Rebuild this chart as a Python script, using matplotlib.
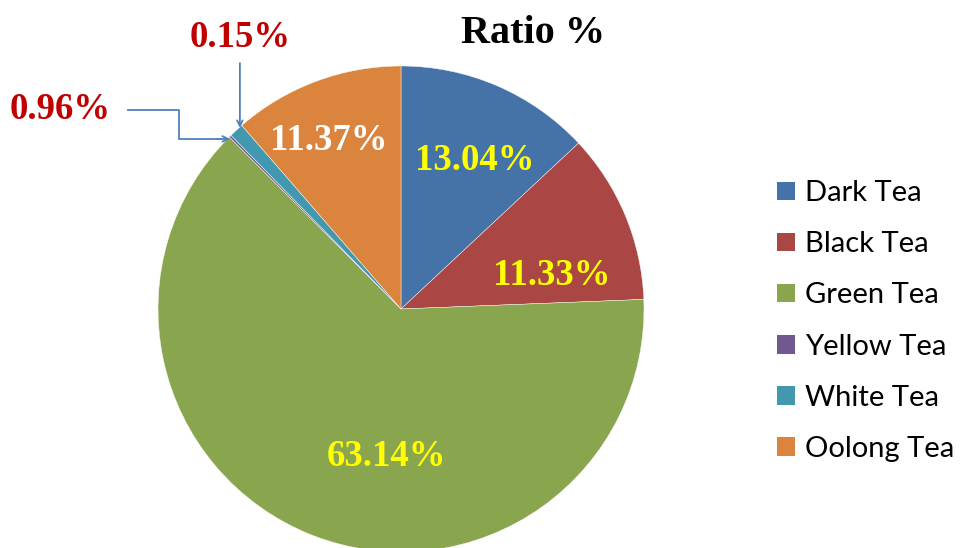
import matplotlib
matplotlib.use("Agg")
import matplotlib.pyplot as plt
from matplotlib.patches import Patch

categories = ["Dark Tea", "Black Tea", "Green Tea", "Yellow Tea", "White Tea", "Oolong Tea"]
values = [13.04, 11.33, 63.14, 0.15, 0.96, 11.37]
colors = ["#4572A7", "#AA4643", "#89A54E", "#71588F", "#4198AF", "#DB843D"]
label_text = ["13.04%", "11.33%", "63.14%", "0.15%", "0.96%", "11.37%"]

W, H = 961, 548
cx, cy, R = 401, 309, 243  # pixel layout of the pie

fig = plt.figure(figsize=(W / 100, H / 100), dpi=100)
ax = fig.add_axes([0, 0, 1, 1])

wedges, _ = ax.pie(values, colors=colors, startangle=90, counterclock=False,
                   radius=1.0, center=(0, 0),
                   wedgeprops=dict(edgecolor="white", linewidth=0.3))
ax.set_xlim(-cx / R, (W - cx) / R)
ax.set_ylim(-(H - cy) / R, cy / R)
ax.set_aspect("equal")
ax.axis("off")

serif = dict(family="Liberation Serif", weight="bold")
fs = 26.5

# in-slice labels (positions in radius units)
inside = {0: (0.305, 0.610), 1: (0.621, 0.137), 2: (-0.058, -0.605), 5: (-0.296, 0.692)}
inside_color = {0: "#FFFF00", 1: "#FFFF00", 2: "#FFFF00", 5: "white"}
for i, (x, y) in inside.items():
    ax.text(x, y, label_text[i], ha="center", va="center", fontsize=fs,
            color=inside_color[i], **serif)

# outside labels with arrows
red = "#C00000"
ax.text(-0.663, 1.116, label_text[3], ha="center", va="center", fontsize=fs, color=red, **serif)
ax.text(-1.403, 0.820, label_text[4], ha="center", va="center", fontsize=fs, color=red, **serif)

arrow_col = "#4F81BD"
ax.annotate("", xy=(-0.663, 0.745), xytext=(-0.663, 1.012),
            arrowprops=dict(arrowstyle="->", color=arrow_col, lw=1.3, shrinkA=0, shrinkB=0))
ax.plot([-1.123, -0.914, -0.914, -0.74], [0.819, 0.819, 0.700, 0.700], color=arrow_col, lw=1.3)
ax.annotate("", xy=(-0.704, 0.700), xytext=(-0.76, 0.700),
            arrowprops=dict(arrowstyle="->", color=arrow_col, lw=1.3, shrinkA=0, shrinkB=0))

ax.text(0.543, 1.133, "Ratio %", ha="center", va="center", fontsize=29, color="black", **serif)

handles = [Patch(facecolor=c, edgecolor="none") for c in colors]
leg = ax.legend(handles, categories, loc="center left", bbox_to_anchor=(777 / W, 1 - 321 / H),
                frameon=False, prop=dict(family="Lato", size=21),
                handlelength=0.6, handleheight=0.6, handletextpad=0.35,
                labelspacing=0.86, borderaxespad=0, borderpad=0)

fig.savefig("out.png", dpi=100)
